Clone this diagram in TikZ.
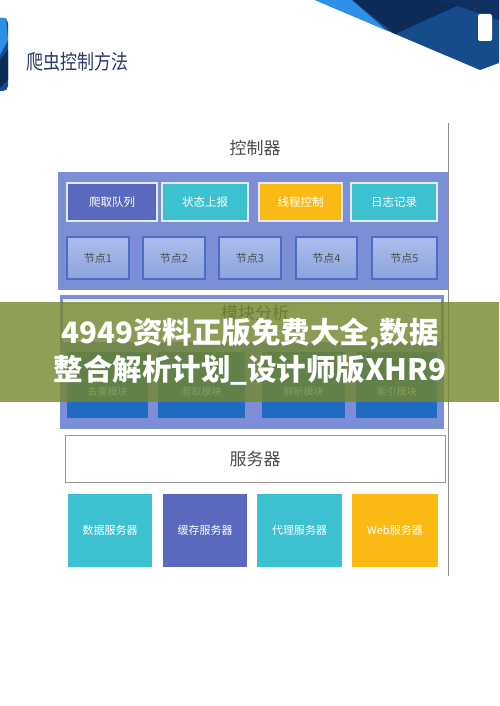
\documentclass[tikz,border=0pt]{standalone}
\usepackage{fontspec}
\newfontfamily\cjk{Noto Sans CJK SC}
\usetikzlibrary{shadings}
\definecolor{peri}{HTML}{7B8ED6}
\definecolor{slatec}{HTML}{5A69BE}
\definecolor{tealc}{HTML}{3DC1D0}
\definecolor{goldc}{HTML}{FBB913}
\definecolor{ntop}{HTML}{ABBDEB}
\definecolor{nbot}{HTML}{8CA3DD}
\definecolor{nborder}{HTML}{4C6DC6}
\definecolor{modblue}{HTML}{1E6BC1}
\definecolor{bannerc}{HTML}{74872C}
\definecolor{navy}{HTML}{0C2B57}
\definecolor{midblue}{HTML}{164B8C}
\definecolor{lightblue}{HTML}{2E8FE6}
\definecolor{titlec}{HTML}{2B3868}
\tikzset{
  topbox/.style={draw=white!80!peri, line width=1.2pt, inner sep=0pt, text=white,
    font=\cjk\fontsize{11.5}{11.5}\selectfont},
  nodebox/.style={draw=nborder, line width=1.4pt, top color=ntop, bottom color=nbot,
    inner sep=0pt, text=black!70, font=\cjk\fontsize{11}{11}\selectfont},
  modbox/.style={fill=modblue, inner sep=0pt},
  modlabel/.style={text=white!85!modblue, font=\cjk\fontsize{10}{10}\selectfont},
  srvbox/.style={inner sep=0pt, text=white, font=\cjk\fontsize{11}{11}\selectfont},
  heading/.style={text=black!70, font=\cjk\fontsize{17}{17}\selectfont},
  bannertext/.style={text=white, font=\cjk\bfseries\fontsize{29.5}{29.5}\selectfont}
}
\begin{document}
\begin{tikzpicture}[x=1pt,y=-1pt]
\useasboundingbox (0,0) rectangle (499,706);
\fill[white] (0,0) rectangle (499,706);
% top-right decoration
\fill[midblue] (315,0) -- (499,0) -- (499,63) -- (480,70) -- cycle;
\fill[navy] (352,0) -- (470,0) -- (395,34) -- cycle;
\fill[navy!80!midblue] (440,0) -- (499,0) -- (499,20) -- cycle;
\fill[lightblue] (315,0) -- (352,0) -- (386,30.1) -- cycle;
\fill[white, rounded corners=2pt] (478,14) rectangle (492,41);
% left logo
\fill[midblue, rounded corners=5pt] (-10,18) rectangle (8,91);
\fill[lightblue] (0,18) -- (6,18) -- (8,40) -- (0,55) -- cycle;
\fill[navy] (0,60) -- (8,50) -- (8,80) -- (0,88) -- cycle;
% title
\node[anchor=west, text=titlec, font=\cjk\fontsize{17}{17}\selectfont, yscale=1.2] (title) at (23,62) {爬虫控制方法};
% right frame line
\draw[black!45, line width=0.8pt] (448,123) coordinate (ltop) -- (448,576) coordinate (lbot);
% controller
\node[heading] (ctrl) at (255,148) {控制器};
\fill[peri] (58,172) rectangle (448,290);
\node[topbox, fill=slatec, minimum width=90pt, minimum height=38pt] (q1) at (112,202) {爬取队列};
\node[topbox, fill=tealc, minimum width=86pt, minimum height=38pt] (q2) at (205,202) {状态上报};
\node[topbox, fill=goldc, minimum width=83pt, minimum height=38pt] (q3) at (300.5,202) {线程控制};
\node[topbox, fill=tealc, minimum width=86pt, minimum height=38pt] (q4) at (394,202) {日志记录};
\node[nodebox, minimum width=62pt, minimum height=42pt] (n1) at (98,258) {节点1};
\node[nodebox, minimum width=62pt, minimum height=42pt] (n2) at (174,258) {节点2};
\node[nodebox, minimum width=62pt, minimum height=42pt] (n3) at (250,258) {节点3};
\node[nodebox, minimum width=61pt, minimum height=42pt] (n4) at (326.5,258) {节点4};
\node[nodebox, minimum width=65pt, minimum height=42pt] (n5) at (404.5,258) {节点5};
% module panel
\fill[peri] (60,295) rectangle (444,429);
\fill[white!88!peri] (63,299) rectangle (441,342);
\node[heading] (modt) at (255,313) {模块分析};
\node[modbox, minimum width=81pt, minimum height=66pt] (m1) at (107.5,385) {};
\node[modbox, minimum width=87pt, minimum height=66pt] (m2) at (201.5,385) {};
\node[modbox, minimum width=83pt, minimum height=66pt] (m3) at (303.5,385) {};
\node[modbox, minimum width=81pt, minimum height=66pt] (m4) at (396.5,385) {};
\node[modlabel] (m1l) at (107.5,392) {去重模块};
\node[modlabel] (m2l) at (201.5,392) {爬取模块};
\node[modlabel] (m3l) at (303.5,392) {解析模块};
\node[modlabel] (m4l) at (396.5,392) {索引模块};
% server
\node[draw=black!40, line width=0.8pt, fill=white, minimum width=380pt, minimum height=47pt, inner sep=0pt] (srv) at (255,458.5) {};
\node[heading] (srvt) at (255,459) {服务器};
\node[srvbox, fill=tealc, minimum width=84pt, minimum height=73pt] (s1) at (110,530.5) {数据服务器};
\node[srvbox, fill=slatec, minimum width=84pt, minimum height=73pt] (s2) at (205,530.5) {缓存服务器};
\node[srvbox, fill=tealc, minimum width=85pt, minimum height=73pt] (s3) at (299.5,530.5) {代理服务器};
\node[srvbox, fill=goldc, minimum width=86pt, minimum height=73pt] (s4) at (395,530.5) {Web服务器};
% banner
\fill[bannerc, opacity=0.8] (0,302) rectangle (499,402);
\node[bannertext] (b1) at (250,334) {4949资料正版免费大全,数据};
\node[bannertext] (b2) at (250,370) {整合解析计划\_设计师版XHR9};
\end{tikzpicture}
\end{document}
